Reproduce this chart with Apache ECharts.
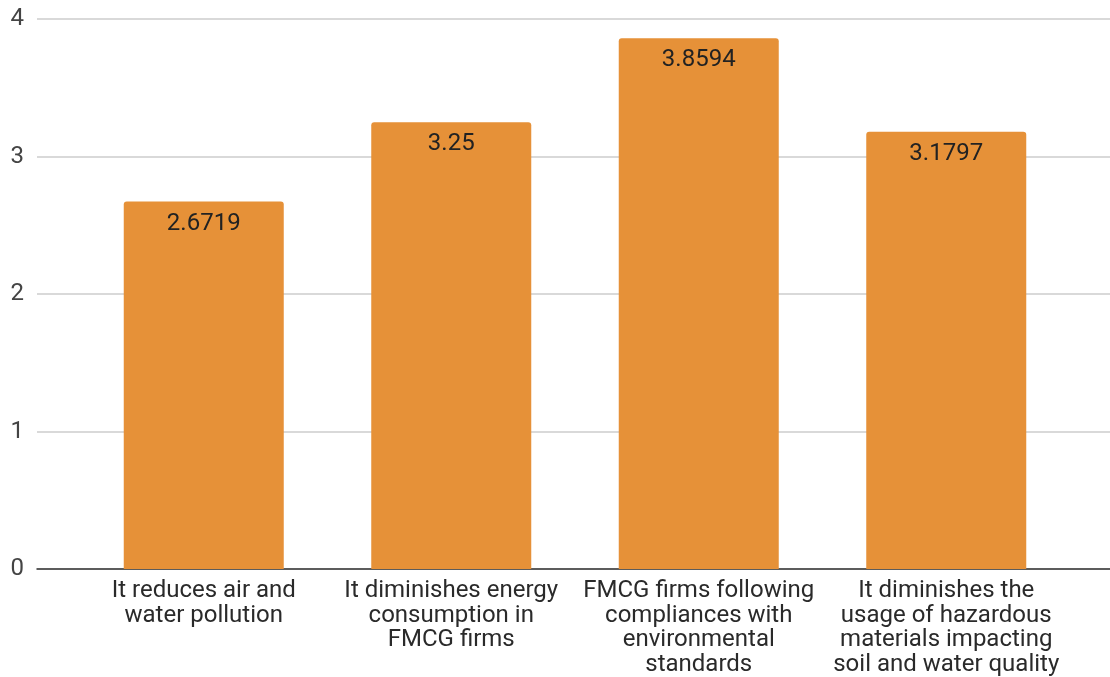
<!DOCTYPE html>
<html>
<head>
<meta charset="utf-8">
<script src="https://cdn.jsdelivr.net/npm/echarts@6/dist/echarts.min.js"></script>
<style>
  html, body { margin: 0; padding: 0; background: #fff; }
  #chart { width: 1110px; height: 677px; }
</style>
</head>
<body>
<div id="chart"></div>
<script>
// Survey statements and their mean scores
const categories = [
  'It reduces air and\nwater pollution',
  'It diminishes energy\nconsumption in\nFMCG firms',
  'FMCG firms following\ncompliances with\nenvironmental\nstandards',
  'It diminishes the\nusage of hazardous\nmaterials impacting\nsoil and water quality'
];
const scores = [2.6719, 3.25, 3.8594, 3.1797];
const yTicks = [0, 1, 2, 3, 4];

const FONT = 'Roboto, "Liberation Sans", Arial, sans-serif';
const chart = echarts.init(document.getElementById('chart'), null, { renderer: 'canvas' });

const gridTop = 19, gridBottom = 108;
chart.setOption({
  animation: false,
  textStyle: { fontFamily: FONT },
  grid: [
    // full-width grid: gridlines, y labels and baseline
    { left: 37, right: 0, top: gridTop, bottom: gridBottom },
    // inner grid holding the bars
    { left: 80, right: 40, top: gridTop, bottom: gridBottom }
  ],
  xAxis: [
    {
      gridIndex: 0, type: 'category', data: [''],
      axisLine: { show: true, lineStyle: { color: '#333', width: 1.5 } },
      axisTick: { show: false }, axisLabel: { show: false }
    },
    {
      gridIndex: 1, type: 'category', data: categories,
      axisLine: { show: false }, axisTick: { show: false },
      axisLabel: {
        interval: 0, color: '#2a2a2a', fontSize: 24, lineHeight: 24.5,
        margin: 10, fontFamily: FONT, align: 'center'
      }
    }
  ],
  yAxis: [
    {
      gridIndex: 0, type: 'value', min: 0, max: 4, interval: 1,
      axisLine: { show: false }, axisTick: { show: false },
      axisLabel: {
        color: '#444', fontSize: 24, margin: 13, fontFamily: FONT,
        formatter: v => yTicks.includes(v) ? String(v) : ''
      },
      splitLine: { lineStyle: { color: '#cccccc', width: 1.5 } }
    },
    {
      gridIndex: 1, type: 'value', min: 0, max: 4, interval: 1,
      show: false, splitLine: { show: false }
    }
  ],
  series: [{
    type: 'bar',
    xAxisIndex: 1, yAxisIndex: 1,
    data: scores,
    barWidth: 160,
    itemStyle: { color: '#e69138', borderRadius: [3, 3, 0, 0] },
    label: {
      show: true, position: 'insideTop', distance: 10,
      color: '#222', fontSize: 24, fontFamily: FONT,
      formatter: p => String(p.value)
    }
  }]
});
</script>
</body>
</html>
